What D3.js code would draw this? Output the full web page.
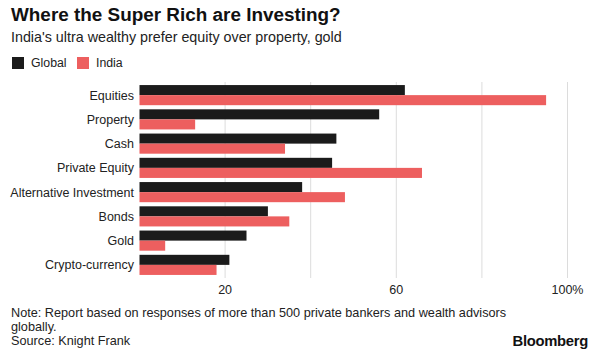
<!DOCTYPE html>
<html>
<head>
<meta charset="utf-8">
<script src="https://cdn.jsdelivr.net/npm/d3@7"></script>
<style>
  body { margin: 0; background: #fff; }
  svg { display: block; font-family: "Liberation Sans", Arial, sans-serif; }
</style>
</head>
<body>
<svg id="chart" width="599" height="355"></svg>
<script>
"use strict";

const categories = ["Equities", "Property", "Cash", "Private Equity", "Alternative Investment", "Bonds", "Gold", "Crypto-currency"];
const seriesNames = ["Global", "India"];
const globalValues = [62, 56, 46, 45, 38, 30, 25, 21];
const indiaValues = [95, 13, 34, 66, 48, 35, 6, 18];
const gridTicks = [20, 40, 60, 80, 100];
const tickLabels = { 20: "20", 60: "60", 100: "100%" };

const colors = { Global: "#1b1b1b", India: "#ed5f5f" };

const svg = d3.select("#chart");

const x = d3.scaleLinear().domain([0, 100]).range([139.5, 567.5]);
const y = d3.scaleBand()
  .domain(categories)
  .range([83, 277])
  .paddingInner(0.17)
  .paddingOuter(0.085);
const ySub = d3.scaleBand().domain(seriesNames).range([0, y.bandwidth()]);

// title block
svg.append("text")
  .attr("x", 11).attr("y", 21)
  .attr("font-size", 18.9).attr("font-weight", "bold").attr("fill", "#111")
  .text("Where the Super Rich are Investing?");
svg.append("text")
  .attr("x", 11).attr("y", 42)
  .attr("font-size", 14.3).attr("fill", "#222")
  .text("India's ultra wealthy prefer equity over property, gold");

// legend
const legend = svg.append("g").attr("font-size", 12.3).attr("fill", "#222");
const legendX = { Global: 12, India: 77 };
seriesNames.forEach((s) => {
  legend.append("rect")
    .attr("x", legendX[s]).attr("y", 57)
    .attr("width", 12).attr("height", 12)
    .attr("fill", colors[s]);
  legend.append("text")
    .attr("x", legendX[s] + 19).attr("y", 67)
    .text(s);
});

// gridlines
svg.append("g")
  .selectAll("line")
  .data(gridTicks)
  .join("line")
  .attr("x1", (d) => x(d)).attr("x2", (d) => x(d))
  .attr("y1", 82).attr("y2", 278)
  .attr("stroke", "#dcdcdc").attr("stroke-width", 1);

// x tick labels
svg.append("g")
  .selectAll("text")
  .data(gridTicks.filter((d) => tickLabels[d]))
  .join("text")
  .attr("x", (d) => x(d)).attr("y", 294)
  .attr("text-anchor", "middle")
  .attr("font-size", 12.5).attr("fill", "#222")
  .text((d) => tickLabels[d]);

// bars
const rows = categories.map((c, i) => ({
  category: c,
  values: [
    { series: "Global", value: globalValues[i] },
    { series: "India", value: indiaValues[i] },
  ],
}));

const groups = svg.append("g")
  .selectAll("g")
  .data(rows)
  .join("g")
  .attr("transform", (d) => `translate(0,${y(d.category)})`);

groups.selectAll("rect")
  .data((d) => d.values)
  .join("rect")
  .attr("x", x(0))
  .attr("y", (d) => ySub(d.series))
  .attr("width", (d) => x(d.value) - x(0))
  .attr("height", ySub.bandwidth())
  .attr("fill", (d) => colors[d.series]);

// category labels
groups.append("text")
  .attr("x", 134)
  .attr("y", y.bandwidth() / 2 + 4.5)
  .attr("text-anchor", "end")
  .attr("font-size", 12.5).attr("fill", "#222")
  .text((d) => d.category);

// footer
const notes = [
  "Note: Report based on responses of more than 500 private bankers and wealth advisors",
  "globally.",
  "Source: Knight Frank",
];
svg.append("g")
  .selectAll("text")
  .data(notes)
  .join("text")
  .attr("x", 11)
  .attr("y", (d, i) => 317 + i * 14)
  .attr("font-size", 12.7).attr("fill", "#222")
  .text((d) => d);

svg.append("text")
  .attr("x", 588).attr("y", 346)
  .attr("text-anchor", "end")
  .attr("font-size", 14.8).attr("font-weight", "bold").attr("fill", "#111")
  .attr("letter-spacing", -0.3)
  .text("Bloomberg");
</script>
</body>
</html>
